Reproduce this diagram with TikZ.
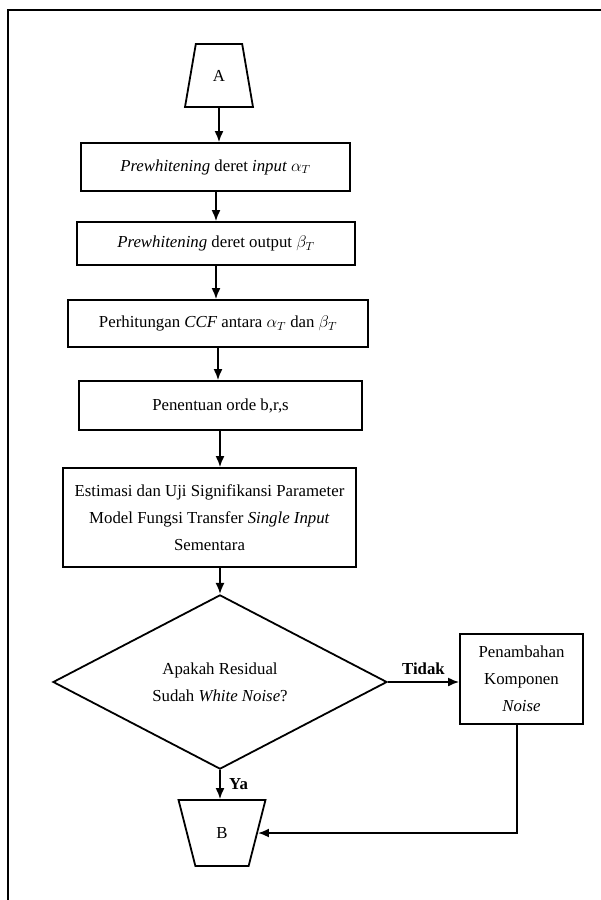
\documentclass[tikz,border=0pt]{standalone}
\usepackage{fix-cm}
\usepackage{fontspec}
\setmainfont{Liberation Serif}
\usetikzlibrary{shapes.geometric,arrows.meta,calc}
\tikzset{
  every node/.style={font=\fontsize{16.8}{27}\selectfont},
  procbox/.style={draw,line width=1.8pt,rectangle,inner sep=0pt,align=center},
  termtrap/.style={draw,line width=1.8pt,trapezium,inner sep=0pt,trapezium stretches=true},
  decide/.style={draw,line width=1.8pt,diamond,inner sep=0pt,align=center},
  flow/.style={line width=1.8pt,-{Latex[length=11pt,width=9pt]}},
  lbl/.style={font=\fontsize{16.8}{20}\selectfont\bfseries}
}
\begin{document}
\begin{tikzpicture}[x=1pt,y=-1pt]
\useasboundingbox (0,0) rectangle (601,900);
\fill[white] (0,0) rectangle (601,900);
% outer frame (left and top)
\draw[line width=2pt] (8,900) -- (8,10) -- (601,10);

\node[termtrap,minimum width=68pt,minimum height=63pt,
      trapezium left angle=75.7,trapezium right angle=75.7] (A) at (219,75.5) {A};
\node[procbox,minimum width=269pt,minimum height=48pt] (b1) at (215.5,167)
  {\textit{Prewhitening} deret \textit{input} $\alpha_T$};
\node[procbox,minimum width=278pt,minimum height=43pt] (b2) at (216,243.5)
  {\textit{Prewhitening} deret output $\beta_T$};
\node[procbox,minimum width=300pt,minimum height=47pt] (b3) at (218,323.5)
  {Perhitungan \textit{CCF} antara $\alpha_T$ dan $\beta_T$};
\node[procbox,minimum width=283pt,minimum height=49pt] (b4) at (220.5,405.5)
  {Penentuan orde b,r,s};
\node[procbox,minimum width=293pt,minimum height=99pt] (b5) at (209.5,517.5)
  {Estimasi dan Uji Signifikansi Parameter\\ Model Fungsi Transfer \textit{Single Input}\\ Sementara};
\node[decide,minimum width=334pt,minimum height=163pt] (D) at (220,682)
  {Apakah Residual\\ Sudah \textit{White Noise}?};
\node[procbox,minimum width=123pt,minimum height=90pt] (b6) at (521.5,679)
  {Penambahan\\ Komponen\\ \textit{Noise}};
\node[termtrap,minimum width=87pt,minimum height=66pt,
      trapezium left angle=107.8,trapezium right angle=107.8] (B) at (222,833) {B};

\draw[flow] (A.south) -- (A.south |- b1.north);
\draw[flow] (b2.north |- b1.south) -- (b2.north);
\draw[flow] (b2.south) -- (b2.south |- b3.north);
\draw[flow] (b3.south) -- (b3.south |- b4.north);
\draw[flow] (D.north |- b4.south) -- (D.north |- b5.north);
\draw[flow] (D.north |- b5.south) -- (D.north);
\draw[flow] (D.south) -- node[lbl,right=5pt] {Ya} (D.south |- B.north);
\draw[flow] (D.east) -- node[lbl,above=3pt] {Tidak} (D.east -| b6.west);
\draw[flow] ([xshift=-4.5pt]b6.south) |- (B.east);
\end{tikzpicture}
\end{document}
